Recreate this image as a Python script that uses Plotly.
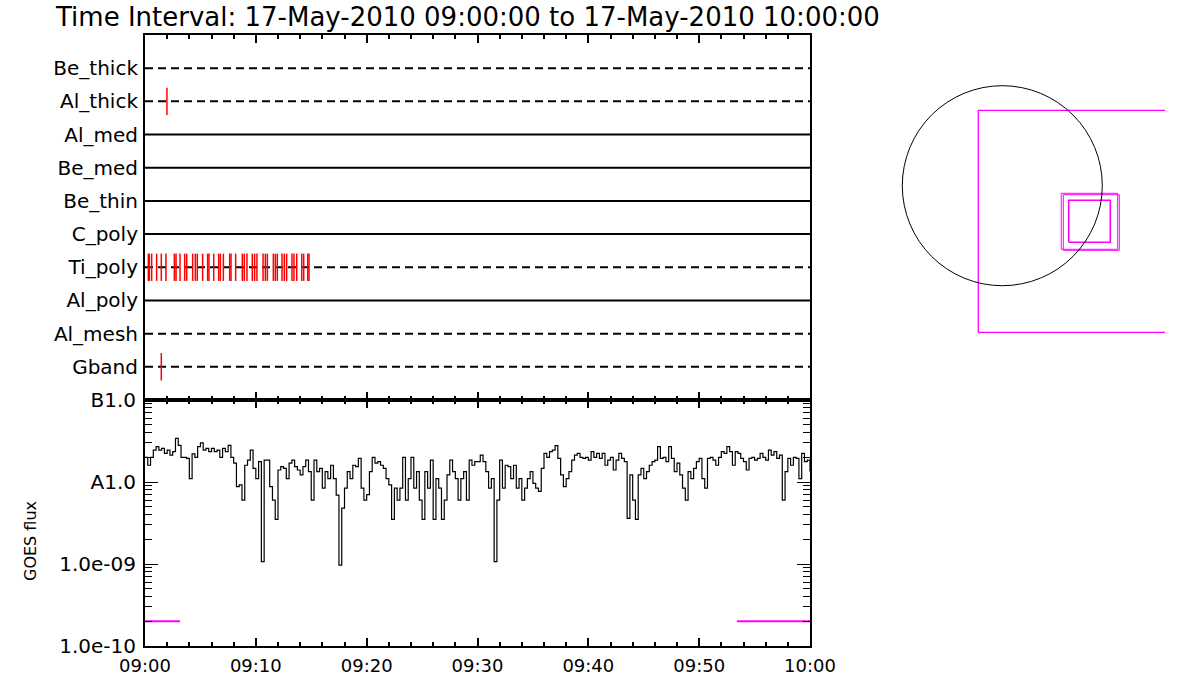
import numpy as np
import pandas as pd
import plotly.graph_objects as go

# ---------------- data ----------------
T_START = "2010-05-17 09:00:00"
T_END = "2010-05-17 10:00:00"
TITLE = "Time Interval: 17-May-2010 09:00:00 to 17-May-2010 10:00:00"

# detector rows, top to bottom
rows = ["Be_thick", "Al_thick", "Al_med", "Be_med", "Be_thin",
        "C_poly", "Ti_poly", "Al_poly", "Al_mesh", "Gband"]
row_dashed = [True, True, False, False, False, False, True, False, True, True]

# event times (minutes after 09:00) per row
events_al_thick = [1.98]
events_gband = [1.47]
events_ti_poly = [0.3, 0.39, 0.6, 1.05, 1.47, 1.89, 2.65, 2.8, 3.16, 3.58, 3.76,
                  4.3, 4.54, 4.72, 5.2, 5.65, 5.77, 6.2, 6.65, 6.8, 7.07, 7.64,
                  7.76, 8.18, 8.78, 8.96, 9.2, 9.68, 9.89, 10.1, 10.65, 10.86,
                  11.04, 11.58, 11.76, 11.94, 12.36, 12.57, 12.78, 13.26, 13.44,
                  13.69, 14.14, 14.32, 14.68, 14.8]

# GOES flux, 15 s cadence from 09:00 to 10:00, units of 1e-9 W/m^2
goes_step_min = 0.25
goes_flux_e9 = [
    20, 16, 20, 24.5,   27, 24.5, 25.7, 22.3,   24.5, 21.3, 23.4, 34,
    28, 20, 20, 19.4,   11, 22, 20, 27,         30, 24.5, 25.7, 23.4,
    25.7, 23.4, 24.5, 20,   25.7, 23.4, 28, 20,   17, 8.8, 9.2, 6,
    16, 18.5, 24.5, 14.7,   11, 17.7, 1.07, 18.5,   18.5, 8.8, 6, 3.5,
    14, 15.4, 14.7, 11,   17, 18.5, 15.4, 14,   12.2, 15.4, 18.5, 13.4,
    6, 18.5, 13.4, 14.7,   8.4, 13.4, 11, 16,   11, 6.9, 0.97, 4.8,
    8.4, 13.4, 11, 16,   15.4, 19.4, 8.4, 6,   7, 13.4, 20, 17,
    17.7, 16, 14.7, 11,   9.2, 3.5, 8.4, 6,   8.4, 20, 6, 11,
    20, 8.4, 13.4, 6,   3.5, 13.4, 8.4, 18.5,   3.5, 11, 8.4, 3.5,
    6, 12.2, 18.5, 13.4,   11, 6, 11, 13.4,   6, 18.5, 16, 17.7,
    17.7, 21.3, 17.7, 13.4,   8.4, 11, 1.07, 6,   18.5, 8.4, 16, 15.4,
    11, 16, 8.4, 11,   6, 8.4, 11, 13.4,   9.6, 8.4, 7.7, 14.7,
    22.3, 20, 23.4, 24.5,   27.8, 19.4, 12.2, 8.8,   11, 13.4, 18.5, 21.3,
    22.3, 20, 19.4, 20,   18.5, 23.4, 20, 22.3,   19.4, 22.3, 16, 18.5,
    20, 14, 18.5, 22.3,   19.4, 17.7, 3.6, 12.2,   6, 3.5, 12.2, 14.7,
    11, 13.4, 16, 17.7,   18.5, 27, 19.4, 20,   17.7, 27, 19.4, 13.4,
    17, 12.2, 8.4, 6,   13.4, 11, 14.7, 17.7,   19.4, 11, 8.4, 19.4,
    20, 18.5, 16, 20,   23.4, 22.3, 27, 23.4,   16, 23.4, 22.3, 19.4,
    17.7, 14, 19.4, 20,   18.5, 19.4, 22.3, 20,   18.5, 24.5, 21.3, 23.4,
    19.4, 21.3, 6, 13.4,   19.4, 16, 20, 19.4,   11, 22.3, 17.7, 18.5,
    13.4,
]

# attenuator/status level segments (minutes, flux)
status_min = [0.0, 3.16, None, 53.4, 60.0]
status_flux = [2e-10, 2e-10, None, 2e-10, 2e-10]

goes_tickvals = [1e-10, 1e-9, 1e-8, 1e-7]
goes_ticktext = ["1.0e-10", "1.0e-09", "A1.0", "B1.0"]

# context map (arcsec): solar disk radius and FOV boxes (cx, cy, w, h)
sun_radius = 950.0
fov_cx = [826.5, 828.0, 845.5, 828.4]
fov_cy = [-338.0, -338.2, -349.6, -338.2]
fov_w = [2109.0, 535.8, 532.0, 395.2]
fov_h = [2109.0, 532.0, 528.2, 399.0]
fov_lw = [1.3, 1.0, 1.0, 1.6]

# ---------------- figure ----------------
W, H = 1200, 700
def px_x(p):
    return p / W
def px_y(p):
    return 1 - p / H

t0 = pd.Timestamp(T_START)
t1 = pd.Timestamp(T_END)
def to_t(mins):
    return [None if m is None else t0 + pd.Timedelta(minutes=m) for m in mins]

fig = go.Figure()

n = len(rows)
row_y = [n - i for i in range(n)]
for name, y, dashed in zip(rows, row_y, row_dashed):
    fig.add_trace(go.Scatter(
        x=[t0, t1], y=[y, y], mode="lines", xaxis="x", yaxis="y",
        line=dict(color="black", width=2, dash="8px,5px" if dashed else "solid"),
        showlegend=False, hoverinfo="skip"))

for name, ev in [("Al_thick", events_al_thick), ("Ti_poly", events_ti_poly),
                 ("Gband", events_gband)]:
    y = row_y[rows.index(name)]
    fig.add_trace(go.Scatter(
        x=to_t(ev), y=[y] * len(ev), mode="markers", xaxis="x", yaxis="y",
        marker=dict(symbol="line-ns", size=19.5, color="red",
                    line=dict(color="red", width=1.5)),
        showlegend=False))

goes_min = [i * goes_step_min for i in range(len(goes_flux_e9))]
fig.add_trace(go.Scatter(
    x=to_t(goes_min), y=[v * 1e-9 for v in goes_flux_e9], mode="lines",
    xaxis="x2", yaxis="y2", line=dict(color="black", width=1.2, shape="hv"),
    showlegend=False))
fig.add_trace(go.Scatter(
    x=to_t(status_min), y=status_flux, mode="lines", xaxis="x2", yaxis="y2",
    line=dict(color="#ff00ff", width=2), connectgaps=False, showlegend=False))

# context map
for cx, cy, w, h, lw in zip(fov_cx, fov_cy, fov_w, fov_h, fov_lw):
    x0, x1 = cx - w / 2, cx + w / 2
    y0, y1 = cy - h / 2, cy + h / 2
    fig.add_trace(go.Scatter(
        x=[x0, x1, x1, x0, x0], y=[y0, y0, y1, y1, y0], mode="lines",
        xaxis="x3", yaxis="y3", line=dict(color="#ff00ff", width=lw),
        showlegend=False, hoverinfo="skip"))
fig.add_shape(type="circle", xref="x3", yref="y3",
              x0=-sun_radius, x1=sun_radius, y0=-sun_radius, y1=sun_radius,
              line=dict(color="black", width=1))

FONT = "DejaVu Sans"
axline = dict(showline=True, linecolor="black", linewidth=2, showgrid=False,
              zeroline=False, automargin=False)
xcommon = dict(type="date", range=[t0, t1], tick0=t0, dtick=600000,
               ticks="inside", ticklen=8, tickwidth=2, tickcolor="black",
               minor=dict(dtick=120000, ticks="inside", ticklen=4, tickwidth=2,
                          tickcolor="black", showgrid=False),
               mirror="allticks", **axline)

k = 9.5  # arcsec per pixel in the context map
map_l, map_r, map_t, map_b = 880, 1165, 60, 345
cx_px, cy_px = 1002.3, 185.7

fig.update_layout(
    width=W, height=H,
    margin=dict(l=0, r=0, t=0, b=0, pad=0, autoexpand=False),
    paper_bgcolor="white", plot_bgcolor="white",
    font=dict(family=FONT, color="black"),
    xaxis=dict(domain=[px_x(145), px_x(810)], anchor="y",
               showticklabels=False, **xcommon),
    xaxis2=dict(domain=[px_x(145), px_x(810)], anchor="y2", matches="x",
                showticklabels=True, tickformat="%H:%M",
                tickfont=dict(size=18), ticklabelstandoff=2, **xcommon),
    yaxis=dict(domain=[px_y(400), px_y(35)], anchor="x", range=[0, n + 1],
               tickmode="array", tickvals=row_y, ticktext=rows, ticks="",
               tickfont=dict(size=20), ticklabelstandoff=1, mirror=True,
               **axline),
    yaxis2=dict(domain=[px_y(646), px_y(400)], anchor="x2", type="log",
                range=[-10, -7], tickmode="array", tickvals=goes_tickvals,
                ticktext=goes_ticktext, ticks="inside", ticklen=13,
                tickwidth=1, tickcolor="black",
                minor=dict(tickmode="array",
                           tickvals=[m * 10.0 ** e for e in range(-10, -7)
                                     for m in range(2, 10)],
                           ticks="inside", ticklen=7, tickwidth=1,
                           tickcolor="black", showgrid=False),
                tickfont=dict(size=20), ticklabelstandoff=3,
                mirror="allticks", **axline),
    xaxis3=dict(domain=[px_x(map_l), px_x(map_r)], anchor="y3", visible=False,
                automargin=False,
                range=[(map_l - cx_px) * k, (map_r - cx_px) * k]),
    yaxis3=dict(domain=[px_y(map_b), px_y(map_t)], anchor="x3", visible=False,
                automargin=False,
                range=[-(map_b - cy_px) * k, -(map_t - cy_px) * k]),
    annotations=[
        dict(text=TITLE, xref="paper", yref="paper", x=px_x(53), y=px_y(17),
             xanchor="left", yanchor="middle", showarrow=False,
             font=dict(size=26)),
        dict(text="GOES flux", xref="paper", yref="paper", x=px_x(30),
             y=px_y(541), xanchor="center", yanchor="middle", textangle=-90,
             showarrow=False, font=dict(size=16)),
    ],
)

fig.write_html("out.html", config={"displayModeBar": False},
               post_script="document.body.style.margin='0px';")
